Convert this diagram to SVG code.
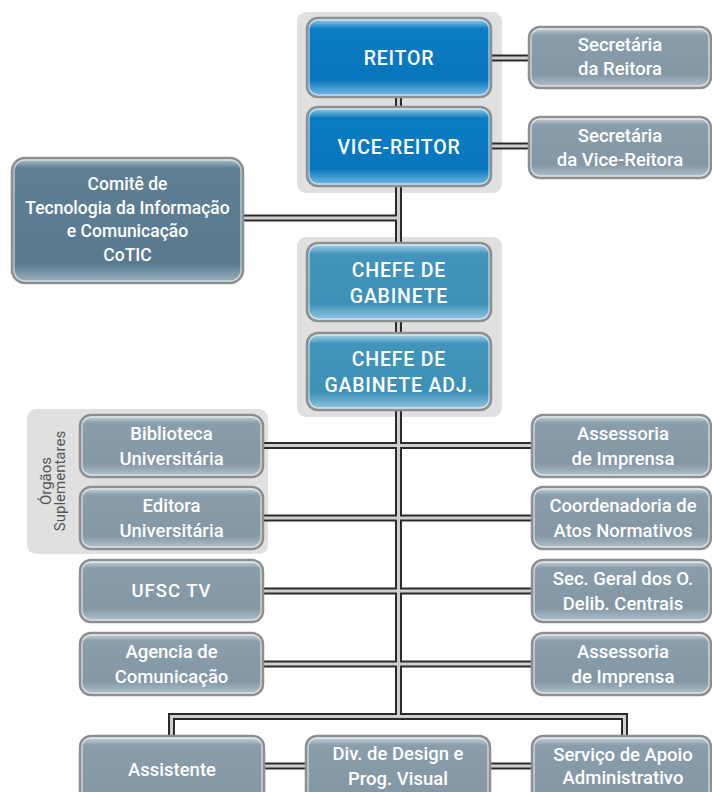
<svg xmlns="http://www.w3.org/2000/svg" width="712" height="792" viewBox="0 0 712 792">
<defs>
<linearGradient id="gGray" x1="0" y1="0" x2="0" y2="1">
<stop offset="0" stop-color="#d3dde3"/>
<stop offset="0.13" stop-color="#8a9dab"/>
<stop offset="0.78" stop-color="#8497a5"/>
<stop offset="1" stop-color="#b4c4ce"/>
</linearGradient>
<linearGradient id="gDark" x1="0" y1="0" x2="0" y2="1">
<stop offset="0" stop-color="#b9cad5"/>
<stop offset="0.08" stop-color="#5e7f93"/>
<stop offset="0.85" stop-color="#5a7b8f"/>
<stop offset="1" stop-color="#9cb5c4"/>
</linearGradient>
<linearGradient id="gBlue" x1="0" y1="0" x2="0" y2="1">
<stop offset="0" stop-color="#a8d6f2"/>
<stop offset="0.14" stop-color="#0b7cc3"/>
<stop offset="0.78" stop-color="#0876bc"/>
<stop offset="1" stop-color="#7cc0e8"/>
</linearGradient>
<linearGradient id="gMid" x1="0" y1="0" x2="0" y2="1">
<stop offset="0" stop-color="#b8dcee"/>
<stop offset="0.14" stop-color="#4294ba"/>
<stop offset="0.78" stop-color="#3d90b6"/>
<stop offset="1" stop-color="#9ccbe4"/>
</linearGradient>
<style>
.panel{fill:#e0e0e0}
.box{stroke:#8e8e8e;stroke-width:2.5}
.rim{fill:none;stroke:#ffffff;stroke-opacity:0.55;stroke-width:1.5}
.gray{fill:url(#gGray)}
.dark{fill:url(#gDark)}
.blue{fill:url(#gBlue)}
.mid{fill:url(#gMid)}
.pO{fill:none;stroke:#2b2b2b;stroke-width:7}
.pI{fill:none;stroke:#cfcfcf;stroke-width:3}
text{font-family:Roboto,"Liberation Sans",sans-serif;font-weight:500;fill:#ffffff;text-anchor:middle}
.t{font-size:18.5px}
.tb{font-size:19.5px;letter-spacing:0.8px}
.tc{font-size:17.5px}
.side{font-size:15px;font-weight:400;fill:#555555}
</style>
</defs>

<g id="panels">
<rect class="panel" x="297" y="12" width="205" height="181" rx="9"/>
<rect class="panel" x="297" y="237" width="205" height="180" rx="9"/>
<rect class="panel" x="27" y="409" width="241" height="145" rx="9"/>
<text class="side" transform="translate(51,481) rotate(-90)">Órgãos</text>
<text class="side" transform="translate(65,481) rotate(-90)">Suplementares</text>
</g>

<g id="connectors">
<path class="pO" d="M398.5 97V716.5M491 58H529M491 146H529M243 218H398.5M263 445.5H532M263 518H532M263 591H532M263 664H532M171.5 736V716.5H624.5V736M264 766H306M490 766H532"/>
<path class="pI" d="M398.5 97V716.5M491 58H529M491 146H529M243 218H398.5M263 445.5H532M263 518H532M263 591H532M263 664H532M171.5 736V716.5H624.5V736M264 766H306M490 766H532"/>
</g>

<g id="reitor">
<rect class="box blue" x="307" y="18" width="184" height="79" rx="11"/>
<rect class="rim" x="309" y="20" width="180" height="75" rx="9"/>
<text class="tb" x="399" y="65">REITOR</text>
</g>
<g id="vice-reitor">
<rect class="box blue" x="307" y="107" width="184" height="79" rx="11"/>
<rect class="rim" x="309" y="109" width="180" height="75" rx="9"/>
<text class="tb" x="399" y="154">VICE-REITOR</text>
</g>
<g id="sec-reitora">
<rect class="box gray" x="529" y="27" width="182" height="61" rx="11"/>
<rect class="rim" x="531" y="29" width="178" height="57" rx="9"/>
<text class="t" x="620" y="51">Secretária</text>
<text class="t" x="620" y="75">da Reitora</text>
</g>
<g id="sec-vice">
<rect class="box gray" x="529" y="117" width="182" height="61" rx="11"/>
<rect class="rim" x="531" y="119" width="178" height="57" rx="9"/>
<text class="t" x="620" y="142">Secretária</text>
<text class="t" x="620" y="166">da Vice-Reitora</text>
</g>
<g id="cotic">
<rect class="box dark" x="12" y="158" width="231" height="125" rx="13"/>
<rect class="rim" x="14" y="160" width="227" height="121" rx="11"/>
<text class="tc" x="127.5" y="190">Comitê de</text>
<text class="tc" x="127.5" y="214">Tecnologia da Informação</text>
<text class="tc" x="127.5" y="237">e Comunicação</text>
<text class="tc" x="127.5" y="261">CoTIC</text>
</g>
<g id="chefe">
<rect class="box mid" x="307" y="243" width="184" height="78" rx="11"/>
<rect class="rim" x="309" y="245" width="180" height="74" rx="9"/>
<text class="tb" x="399" y="277">CHEFE DE</text>
<text class="tb" x="399" y="303">GABINETE</text>
</g>
<g id="chefe-adj">
<rect class="box mid" x="307" y="333" width="184" height="77" rx="11"/>
<rect class="rim" x="309" y="335" width="180" height="73" rx="9"/>
<text class="tb" x="399" y="366">CHEFE DE</text>
<text class="tb" x="399" y="392">GABINETE ADJ.</text>
</g>
<g id="biblioteca">
<rect class="box gray" x="80" y="415" width="183" height="62" rx="11"/>
<rect class="rim" x="82" y="417" width="179" height="58" rx="9"/>
<text class="t" x="171.5" y="440">Biblioteca</text>
<text class="t" x="171.5" y="465">Universitária</text>
</g>
<g id="editora">
<rect class="box gray" x="80" y="487" width="183" height="62" rx="11"/>
<rect class="rim" x="82" y="489" width="179" height="58" rx="9"/>
<text class="t" x="171.5" y="512">Editora</text>
<text class="t" x="171.5" y="537">Universitária</text>
</g>
<g id="ufsctv">
<rect class="box gray" x="80" y="560" width="183" height="62" rx="11"/>
<rect class="rim" x="82" y="562" width="179" height="58" rx="9"/>
<text class="t" x="171.5" y="597" style="letter-spacing:1px">UFSC TV</text>
</g>
<g id="agencia">
<rect class="box gray" x="80" y="633" width="183" height="62" rx="11"/>
<rect class="rim" x="82" y="635" width="179" height="58" rx="9"/>
<text class="t" x="171.5" y="658">Agencia de</text>
<text class="t" x="171.5" y="683">Comunicação</text>
</g>
<g id="assessoria1">
<rect class="box gray" x="532" y="415" width="179" height="62" rx="11"/>
<rect class="rim" x="534" y="417" width="175" height="58" rx="9"/>
<text class="t" x="623" y="440">Assessoria</text>
<text class="t" x="623" y="465">de Imprensa</text>
</g>
<g id="coordenadoria">
<rect class="box gray" x="532" y="487" width="179" height="62" rx="11"/>
<rect class="rim" x="534" y="489" width="175" height="58" rx="9"/>
<text class="t" x="623" y="512">Coordenadoria de</text>
<text class="t" x="623" y="537">Atos Normativos</text>
</g>
<g id="secgeral">
<rect class="box gray" x="532" y="560" width="179" height="62" rx="11"/>
<rect class="rim" x="534" y="562" width="175" height="58" rx="9"/>
<text class="t" x="623" y="585">Sec. Geral dos O.</text>
<text class="t" x="623" y="610">Delib. Centrais</text>
</g>
<g id="assessoria2">
<rect class="box gray" x="532" y="633" width="179" height="62" rx="11"/>
<rect class="rim" x="534" y="635" width="175" height="58" rx="9"/>
<text class="t" x="623" y="658">Assessoria</text>
<text class="t" x="623" y="683">de Imprensa</text>
</g>
<g id="assistente">
<rect class="box gray" x="80" y="736" width="184" height="72" rx="11"/>
<rect class="rim" x="82" y="738" width="180" height="68" rx="9"/>
<text class="t" x="172" y="776">Assistente</text>
</g>
<g id="div-design">
<rect class="box gray" x="306" y="736" width="184" height="72" rx="11"/>
<rect class="rim" x="308" y="738" width="180" height="68" rx="9"/>
<text class="t" x="398" y="760">Div. de Design e</text>
<text class="t" x="398" y="785">Prog. Visual</text>
</g>
<g id="servico">
<rect class="box gray" x="532" y="736" width="179" height="72" rx="11"/>
<rect class="rim" x="534" y="738" width="175" height="68" rx="9"/>
<text class="t" x="623" y="761">Serviço de Apoio</text>
<text class="t" x="623" y="784">Administrativo</text>
</g>
</svg>
